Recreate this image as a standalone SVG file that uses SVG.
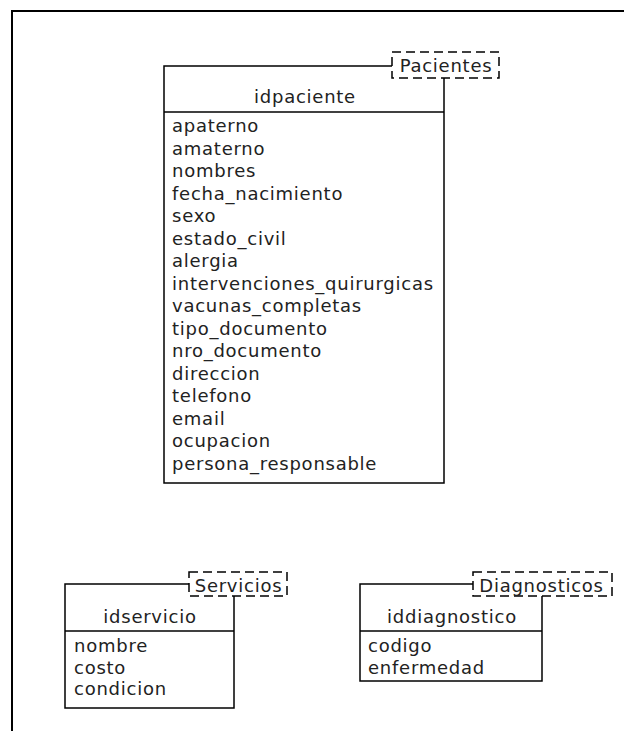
<svg xmlns="http://www.w3.org/2000/svg" width="624" height="731" viewBox="0 0 624 731">
<style>
.box{fill:#fff;stroke:#000;stroke-width:1.5}
.tag{fill:#fff;stroke:#000;stroke-width:1.5;stroke-dasharray:9,5}
.t{font-family:"DejaVu Sans",sans-serif;font-size:18px;letter-spacing:0.75px;fill:#222}
.c{text-anchor:middle}
</style>
<rect x="0" y="0" width="624" height="731" fill="#fff"/>
<rect x="12" y="11" width="700" height="800" fill="none" stroke="#000" stroke-width="2"/>
<g id="connectors"></g>
<g id="pacientes">
<rect class="box" x="164" y="66" width="280" height="417"/>
<line x1="164" y1="112" x2="444" y2="112" stroke="#000" stroke-width="1.5"/>
<rect class="tag" x="392" y="52" width="107" height="26"/>
<text class="t c" x="446" y="72">Pacientes</text>
<text class="t c" x="305" y="103">idpaciente</text>
<text class="t" x="172" y="132">apaterno</text>
<text class="t" x="172" y="154.5">amaterno</text>
<text class="t" x="172" y="177">nombres</text>
<text class="t" x="172" y="199.5">fecha_nacimiento</text>
<text class="t" x="172" y="222">sexo</text>
<text class="t" x="172" y="244.5">estado_civil</text>
<text class="t" x="172" y="267">alergia</text>
<text class="t" x="172" y="289.5">intervenciones_quirurgicas</text>
<text class="t" x="172" y="312">vacunas_completas</text>
<text class="t" x="172" y="334.5">tipo_documento</text>
<text class="t" x="172" y="357">nro_documento</text>
<text class="t" x="172" y="379.5">direccion</text>
<text class="t" x="172" y="402">telefono</text>
<text class="t" x="172" y="424.5">email</text>
<text class="t" x="172" y="447">ocupacion</text>
<text class="t" x="172" y="469.5">persona_responsable</text>
</g>
<g id="servicios">
<rect class="box" x="65" y="584" width="169" height="124"/>
<line x1="65" y1="631" x2="234" y2="631" stroke="#000" stroke-width="1.5"/>
<rect class="tag" x="189" y="572" width="98" height="24"/>
<text class="t c" x="238.5" y="592">Servicios</text>
<text class="t c" x="150" y="623">idservicio</text>
<text class="t" x="74" y="652">nombre</text>
<text class="t" x="74" y="673.5">costo</text>
<text class="t" x="74" y="695">condicion</text>
</g>
<g id="diagnosticos">
<rect class="box" x="360" y="584" width="182" height="97"/>
<line x1="360" y1="631" x2="542" y2="631" stroke="#000" stroke-width="1.5"/>
<rect class="tag" x="473" y="572" width="139" height="24"/>
<text class="t c" x="541.5" y="592">Diagnosticos</text>
<text class="t c" x="452" y="623">iddiagnostico</text>
<text class="t" x="368" y="652">codigo</text>
<text class="t" x="368" y="673.5">enfermedad</text>
</g>
</svg>
